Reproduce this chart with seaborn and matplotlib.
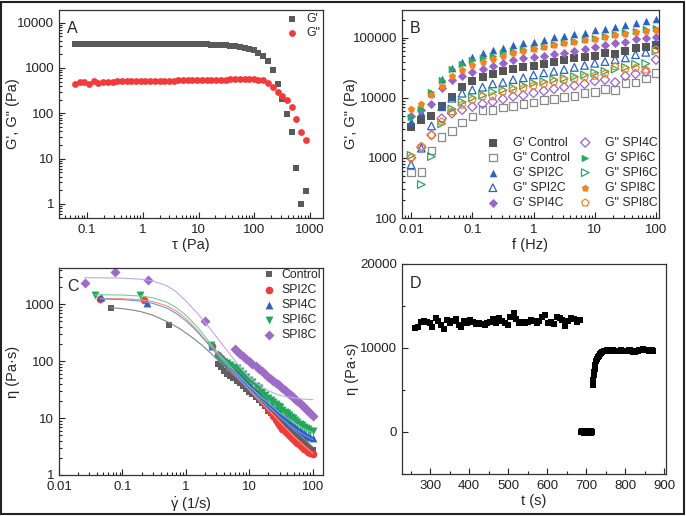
import matplotlib
matplotlib.use("Agg")
import matplotlib.pyplot as plt
import matplotlib.ticker as mticker
from matplotlib.patches import Rectangle
import seaborn as sns

# ---- panel A : stress sweep ----
tau = [0.061, 0.074, 0.09, 0.109, 0.133, 0.161, 0.195, 0.237, 0.288, 0.35,
       0.425, 0.515, 0.625, 0.76, 0.92, 1.12, 1.36, 1.65, 2.0, 2.43,
       2.95, 3.6, 4.35, 5.3, 6.4, 7.8, 9.5, 11.5, 14, 17,
       20.6, 25, 30.5, 37, 45, 55, 67, 81, 98, 118,
       143, 175, 216, 265, 318, 385, 468, 566, 676, 830]
g1_a = [3350, 3420, 3450, 3400, 3430, 3420, 3410, 3400, 3420, 3410,
        3400, 3410, 3400, 3400, 3390, 3400, 3390, 3380, 3390, 3380,
        3370, 3380, 3370, 3360, 3360, 3350, 3340, 3330, 3310, 3290,
        3260, 3220, 3170, 3110, 3030, 2930, 2800, 2640, 2440, 2190,
        1880, 1450, 910, 445, 204, 98, 38, 6.1, 0.98, 1.9]
g2_a = [445, 480, 500, 440, 505, 470, 480, 495, 500, 505,
        505, 510, 510, 510, 515, 515, 515, 520, 520, 520,
        525, 525, 530, 530, 530, 535, 535, 540, 540, 545,
        545, 550, 555, 560, 560, 565, 570, 570, 565, 555,
        530, 475, 390, 297, 245, 198, 141, 75, 38, 26]

# ---- panel B : frequency sweep ----
freq = [0.01, 0.0147, 0.0215, 0.0316, 0.0464, 0.0681, 0.1, 0.147, 0.215, 0.316,
        0.464, 0.681, 1, 1.47, 2.15, 3.16, 4.64, 6.81, 10, 14.7,
        21.5, 31.6, 46.4, 68.1, 100]
gp_control = [3250, 4200, 5000, 7300, 10400, 15000, 18700, 22000, 25000, 27500,
              30000, 32000, 34000, 37000, 40000, 42500, 45000, 48000, 50000, 55000,
              53000, 60000, 66000, 71000, 74000]
gpp_control = [570, 580, 1330, 2250, 2800, 3900, 4900, 6200, 6300, 6900,
               7300, 7800, 8400, 9200, 9500, 10300, 10800, 12000, 12500, 14000,
               13500, 17500, 18000, 21000, 26000]
gp_2c = [4100, 5900, 12000, 20500, 31000, 40000, 47000, 55000, 62000, 68000,
         75000, 80000, 85000, 91000, 102000, 107000, 115000, 120000, 132000, 138000,
         151000, 162000, 174000, 190000, 204000]
gpp_2c = [770, 1450, 3400, 7100, 9800, 11900, 13500, 15000, 17000, 18000,
          20000, 21500, 24000, 26000, 27500, 29500, 32000, 34500, 37500, 40000,
          43000, 46000, 52000, 57000, 82000]
gp_4c = [5000, 6300, 8000, 14300, 20000, 23000, 27000, 30000, 34000, 38000,
         42000, 45000, 47000, 50000, 53000, 56000, 60000, 64000, 69000, 76000,
         81000, 85000, 94000, 100000, 104000]
gpp_4c = [1000, 1500, 2400, 4500, 5500, 6300, 7100, 7900, 8600, 9500,
          10500, 11000, 12000, 13000, 14000, 15000, 16000, 17000, 19000, 20000,
          18000, 23000, 25000, 27000, 43000]
gp_6c = [4700, 6500, 12500, 19500, 30000, 36000, 42000, 45000, 50000, 56000,
         60000, 65000, 68000, 72000, 78000, 84000, 88000, 95000, 100000, 108000,
         115000, 122000, 130000, 140000, 145000]
gpp_6c = [1100, 360, 1050, 3700, 6500, 8500, 10000, 11000, 12500, 13500,
          14500, 16000, 17500, 18500, 20000, 21000, 22500, 24000, 26000, 27500,
          30000, 32000, 36000, 37000, 60000]
gp_8c = [6500, 7900, 11300, 15500, 23000, 29000, 35000, 40000, 44000, 50000,
         55000, 61000, 65000, 69000, 76000, 81000, 85000, 91000, 96000, 102000,
         110000, 115000, 123000, 129000, 135000]
gpp_8c = [1020, 1550, 2400, 4000, 5900, 7600, 9200, 10500, 10500, 12700,
          13500, 14400, 15800, 17000, 18500, 20000, 20500, 22000, 23000, 25000,
          33000, 30000, 31000, 29000, 63000]

# ---- panel C : flow curves ----
rate_dense = [3.2, 3.6, 4.0, 4.5, 5.0, 5.6, 6.3, 7.1, 8.0, 9.0,
              10, 11.2, 12.6, 14.1, 15.8, 17.8, 20, 22, 24, 26,
              28, 30, 33, 36, 39, 42, 45, 49, 53, 57,
              62, 67, 72, 78, 84, 91, 100]
ctrl_x = [0.065, 0.55] + rate_dense
ctrl_y = [860, 425,
          90, 78, 66, 60, 55, 50, 45, 41, 37, 32,
          29, 26, 23, 21, 18.5, 16.5, 13.5, 12.3, 11.2, 10.4,
          9.6, 9.0, 8.2, 7.5, 6.9, 6.4, 6.0, 5.5, 5.1, 4.7,
          4.3, 4.0, 3.7, 3.4, 3.1, 2.9, 2.7]
c2_x = [0.045, 0.215, 2.6] + rate_dense
c2_y = [1250, 1200, 180,
        130, 112, 100, 88, 78, 68, 60, 52, 46, 40,
        35, 31, 27, 24, 21, 17.5, 14.5, 12.5, 10.8, 9.4,
        8.2, 7.3, 6.5, 5.9, 5.4, 5.0, 4.6, 4.2, 3.9, 3.6,
        3.3, 3.05, 2.85, 2.7, 2.55, 2.4, 2.3]
c4_x = [0.046, 0.24, 2.6] + rate_dense
c4_y = [1310, 1050, 185,
        135, 118, 105, 92, 82, 72, 63, 56, 49, 43,
        38, 34, 30, 26.5, 23.5, 21, 18.5, 17, 15.5, 14.2,
        13.2, 12.3, 11.2, 10.3, 9.5, 8.8, 8.2, 7.6, 7.0, 6.6,
        6.1, 5.7, 5.4, 5.1, 4.9, 4.7, 4.5]
c6_x = [0.037, 0.187, 2.5] + rate_dense
c6_y = [1440, 1440, 195,
        115, 105, 98, 92, 86, 80, 74, 68, 60, 53,
        47, 42, 37, 33, 29, 25.5, 22.5, 20.5, 19, 17.6,
        16.4, 15.3, 14.1, 13, 12.1, 11.3, 10.6, 9.9, 9.2, 8.6,
        8.0, 7.5, 7.0, 6.6, 6.3, 6.0, 5.8]
c8_x = [0.0255, 0.075, 0.25, 2.0, 5.9, 6.3, 7.1, 8.0, 9.0,
        10, 11.2, 12.6, 14.1, 15.8, 17.8, 20, 22, 24, 26,
        28, 30, 33, 36, 39, 42, 45, 49, 53, 57,
        62, 67, 72, 78, 84, 91, 100]
c8_y = [2300, 3700, 2600, 500, 160, 150, 135, 122, 110,
        100, 90, 81, 73, 66, 59, 53, 48.5, 45, 41.5,
        39, 36.5, 33.5, 31, 28.5, 26.5, 25, 23, 21.5, 20,
        18.5, 17, 15.8, 14.5, 13.2, 12, 10.8]

# fitted curves
fit_x_std = [0.045, 0.1, 0.2, 0.3, 0.5, 0.7, 1, 1.5, 2, 2.6,
             3.5, 5, 7, 10, 15, 20, 30, 50, 70, 100]
fit_ctrl_x = [0.065, 0.1, 0.15, 0.2, 0.3, 0.55, 0.8, 1.2, 1.8, 2.5,
              3.5, 5, 7, 10, 15, 20, 30, 50, 70, 100]
fit_ctrl_y = [870, 830, 780, 730, 640, 470, 370, 270, 190, 135,
              95, 65, 46, 32, 21, 16, 10.5, 6.2, 4.5, 3.1]
fit_c2_y = [1260, 1240, 1190, 1110, 930, 760, 560, 350, 240, 170,
            115, 72, 48, 31, 19, 14, 8.6, 4.8, 3.4, 2.4]
fit_c4_y = [1230, 1200, 1120, 1030, 850, 690, 510, 330, 230, 165,
            112, 72, 48, 32, 21, 16, 10.5, 6.6, 5.2, 4.2]
fit_c6_x = [0.037, 0.1, 0.2, 0.3, 0.5, 0.7, 1, 1.5, 2, 2.5,
            3.5, 5, 7, 10, 15, 20, 30, 50, 70, 100]
fit_c6_y = [1460, 1440, 1380, 1290, 1080, 870, 640, 400, 270, 195,
            125, 80, 54, 36, 24, 18.5, 12.5, 8.2, 6.6, 5.5]
fit_c8_x = [0.025, 0.05, 0.1, 0.2, 0.3, 0.5, 0.7, 1, 1.5, 2,
            3, 5, 7, 10, 15, 20, 30, 50, 70, 100]
fit_c8_y = [2900, 2890, 2850, 2720, 2550, 2100, 1650, 1130, 700, 480,
            270, 130, 80, 52, 36, 30, 25, 22.5, 21.5, 21]

# ---- panel D : three interval thixotropy ----
t1 = [262, 269, 277, 284, 292, 299, 306, 314, 321, 329,
      336, 343, 351, 358, 366, 373, 380, 388, 395, 403,
      410, 417, 425, 432, 440, 447, 454, 462, 469, 477,
      484, 491, 499, 506, 514, 521, 528, 536, 543, 551,
      558, 565, 573, 580, 588, 595, 602, 610, 617, 625,
      632, 639, 647, 654, 662, 669, 676, 684]
eta1 = [12380, 12460, 13060, 13170, 13060, 12980, 12460, 13570, 13170, 12780,
        12300, 13370, 12980, 13250, 13490, 12780, 12460, 13170, 12980, 13370,
        13060, 12860, 12980, 12860, 12780, 12980, 13100, 13450, 12940, 13570,
        13250, 12980, 12780, 13650, 14170, 13450, 12980, 13100, 12980, 13100,
        13370, 13250, 12980, 13170, 13650, 13890, 12980, 13100, 12860, 13650,
        13570, 13370, 12580, 13250, 13570, 13490, 13100, 13370]
t2 = [688, 690, 692, 694, 696, 698, 700, 702, 704, 706, 708, 710, 712, 714, 716]
eta2 = [0, 80, -60, 40, -100, 60, 20, -80, 100, -40, 50, -20, 90, -70, 30]
t3 = [718, 719, 720, 721, 722, 723, 724, 726, 728, 730, 732, 735, 738, 741, 745,
      749, 753, 757, 761, 765, 769, 773, 777, 781, 785, 789, 793, 797, 801,
      805, 809, 813, 817, 821, 825, 829, 833, 837, 841, 845, 849, 853, 857,
      861, 865, 869, 873]
eta3 = [5600, 6200, 6800, 7200, 7500, 7800, 8000, 8400, 8700, 8950, 9100, 9300, 9450, 9550, 9650,
        9700, 9750, 9700, 9750, 9680, 9720, 9650, 9700, 9620, 9680, 9750, 9700, 9600, 9650,
        9700, 9750, 9780, 9700, 9500, 9550, 9600, 9680, 9750, 9800, 9850, 9820, 9750, 9800,
        9700, 9650, 9720, 9600]

sns.set_style("ticks")
plt.rcParams["font.family"] = ["Liberation Sans", "DejaVu Sans"]
plt.rcParams["axes.edgecolor"] = "#333333"
plt.rcParams["axes.linewidth"] = 0.9

fig = plt.figure(figsize=(6.86, 5.16), dpi=100)
axA = fig.add_axes([0.0860, 0.5775, 0.3848, 0.4031])
axB = fig.add_axes([0.5860, 0.5775, 0.3746, 0.4031])
axC = fig.add_axes([0.0860, 0.0795, 0.3848, 0.4012])
axD = fig.add_axes([0.5860, 0.0814, 0.3848, 0.4070])

plain = mticker.FuncFormatter(lambda v, p: f"{v:g}")
LEG = 8.8


def style(ax, letter, logx=True, logy=True):
    if logx:
        ax.set_xscale("log")
        ax.xaxis.set_major_formatter(plain)
        ax.xaxis.set_minor_formatter(mticker.NullFormatter())
    if logy:
        ax.set_yscale("log")
        ax.yaxis.set_major_formatter(plain)
        ax.yaxis.set_minor_formatter(mticker.NullFormatter())
    ax.tick_params(which="both", direction="in", top=False, right=False,
                   labelsize=9.5, colors="#222222", width=0.8)
    ax.tick_params(which="major", length=4)
    ax.tick_params(which="minor", length=2)
    ax.tick_params(axis="x", pad=4.5)
    for sp in ax.spines.values():
        sp.set_visible(True)
    ax.text(0.03, 0.945, letter, transform=ax.transAxes, fontsize=11.5,
            va="top", ha="left")


# A
style(axA, "A")
sns.scatterplot(x=tau, y=g1_a, ax=axA, marker="s", s=18, color="#5a5a5a",
                linewidth=0, label="G'")
sns.scatterplot(x=tau, y=g2_a, ax=axA, marker="o", s=24, color="#f23a3a",
                linewidth=0, label='G"')
axA.set_xlim(0.0316, 1700)
axA.set_ylim(0.49, 19000)
axA.set_xlabel("τ (Pa)", fontsize=10.5, labelpad=1)
axA.set_ylabel("G', G\" (Pa)", fontsize=10.5)
axA.yaxis.set_label_coords(-0.148, 0.5)
axA.legend(loc="upper right", bbox_to_anchor=(1.008, 1.01), frameon=False,
           fontsize=LEG, handletextpad=0.66, labelspacing=0.2,
           borderaxespad=0, handlelength=1.0)

# B
style(axB, "B")
series_b = [
    (gp_control, "G' Control", "s", "#555555", True),
    (gpp_control, 'G" Control', "s", "#8a8a8a", False),
    (gp_2c, "G' SPI2C", "^", "#2d62c0", True),
    (gpp_2c, 'G" SPI2C', "^", "#2d62c0", False),
    (gp_4c, "G' SPI4C", "D", "#9865c8", True),
    (gpp_4c, 'G" SPI4C', "D", "#9865c8", False),
    (gp_6c, "G' SPI6C", ">", "#25ab5e", True),
    (gpp_6c, 'G" SPI6C', ">", "#25ab5e", False),
    (gp_8c, "G' SPI8C", "p", "#f5821f", True),
    (gpp_8c, 'G" SPI8C', "p", "#f5821f", False),
]
for vals, lab, mk, col, filled in series_b:
    size = 22 if mk == "D" else 30
    if filled:
        sns.scatterplot(x=freq, y=vals, ax=axB, marker=mk, s=size, color=col,
                        linewidth=0, label=lab)
    else:
        sns.scatterplot(x=freq, y=vals, ax=axB, marker=mk, s=size,
                        facecolors="none", edgecolor=col, linewidth=0.9,
                        label=lab)
axB.set_xlim(0.0071, 112)
axB.set_ylim(100, 288000)
axB.set_xlabel("f (Hz)", fontsize=10.5, labelpad=1)
axB.set_ylabel("G', G\" (Pa)", fontsize=10.5)
axB.yaxis.set_label_coords(-0.171, 0.5)
axB.legend(loc="lower right", bbox_to_anchor=(1.016, 0.02), ncol=2,
           frameon=False, fontsize=LEG, handletextpad=1.15, labelspacing=0.25,
           columnspacing=0.75, borderaxespad=0, handlelength=1.0)

# C
style(axC, "C")
fits = [
    (fit_ctrl_x, fit_ctrl_y, "#858585"),
    (fit_x_std, fit_c2_y, "#f5927c"),
    (fit_x_std, fit_c4_y, "#6f93dc"),
    (fit_c6_x, fit_c6_y, "#74cf96"),
    (fit_c8_x, fit_c8_y, "#c4a6ec"),
]
for fx, fy, col in fits:
    sns.lineplot(x=fx, y=fy, ax=axC, color=col, linewidth=0.8,
                 estimator=None, sort=False)
series_c = [
    (ctrl_x, ctrl_y, "Control", "s", "#5f5f5f", 24),
    (c2_x, c2_y, "SPI2C", "o", "#ee3b3b", 30),
    (c4_x, c4_y, "SPI4C", "^", "#2f62bf", 32),
    (c6_x, c6_y, "SPI6C", "v", "#22a85a", 32),
    (c8_x, c8_y, "SPI8C", "D", "#9d6cc6", 26),
]
for cx, cy, lab, mk, col, size in series_c:
    sns.scatterplot(x=cx, y=cy, ax=axC, marker=mk, s=size, color=col,
                    linewidth=0, label=lab)
axC.set_xlim(0.01, 145)
axC.set_ylim(1, 4300)
axC.set_xlabel(r"$\dot{\mathregular{γ}}$ (1/s)", fontsize=10.5, labelpad=1)
axC.set_ylabel("η (Pa·s)", fontsize=10.5)
axC.yaxis.set_label_coords(-0.148, 0.5)
axC.legend(loc="upper right", bbox_to_anchor=(1.011, 1.02), frameon=False,
           fontsize=LEG, handletextpad=0.5, labelspacing=0.25,
           borderaxespad=0, handlelength=1.0)

# D
style(axD, "D", logx=False, logy=False)
for tx, ey in [(t1, eta1), (t2, eta2), (t3, eta3)]:
    sns.scatterplot(x=tx, y=ey, ax=axD, marker="s", s=16, color="black",
                    linewidth=0)
axD.set_xlim(228, 905)
axD.set_ylim(-5000, 20000)
axD.xaxis.set_major_locator(mticker.MultipleLocator(100))
axD.xaxis.set_minor_locator(mticker.MultipleLocator(50))
axD.yaxis.set_major_locator(mticker.MultipleLocator(10000))
axD.yaxis.set_minor_locator(mticker.MultipleLocator(5000))
axD.set_xlabel("t (s)", fontsize=10.5, labelpad=1)
axD.set_ylabel("η (Pa·s)", fontsize=10.5)
axD.yaxis.set_label_coords(-0.163, 0.5)

fig.add_artist(Rectangle((0.002, 0.003), 0.995, 0.994, transform=fig.transFigure,
                         fill=False, linewidth=1.5, edgecolor="#222222"))

fig.savefig("out.png", dpi=100)
